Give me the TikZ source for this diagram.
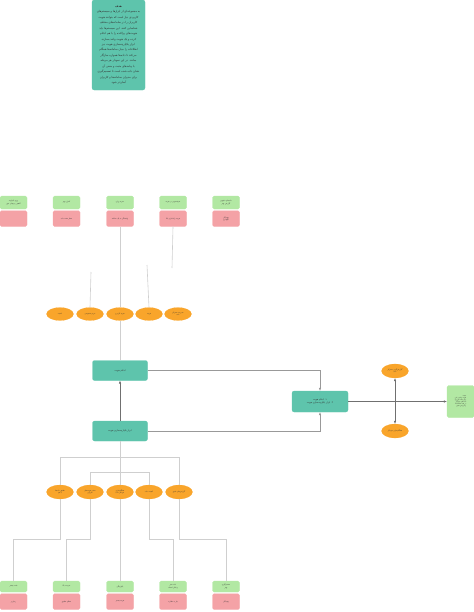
\documentclass[tikz,border=0pt]{standalone}
\usepackage{fontspec}
\newfontfamily\fa[Script=Arabic]{DejaVu Sans}
\TeXXeTstate=1
\usepackage{xcolor}
\definecolor{Teal}{HTML}{5EC4AC}
\definecolor{Pro}{HTML}{B2E8A3}
\definecolor{Con}{HTML}{F4A2A6}
\definecolor{Amber}{HTML}{F9A52B}
\definecolor{Rule}{HTML}{CFCFCF}
\definecolor{Ink}{HTML}{333333}
\usetikzlibrary{arrows.meta,positioning,shapes.geometric}
\newcommand{\fatxt}[1]{\beginR#1\endR}
\tikzset{
  note/.style={fill=Teal,draw=Teal,rounded corners=2mm,minimum width=53mm,minimum height=90mm,
    align=center,text=Ink,font=\fa\fontsize{8}{15.5}\selectfont,inner sep=1pt},
  core/.style={fill=Teal,draw=Teal,rounded corners=2mm,minimum width=55mm,minimum height=20mm,
    align=center,text=Ink,font=\fa\fontsize{6.5}{10}\selectfont,inner sep=1pt},
  pro/.style={fill=Pro,draw=Pro,rounded corners=1.5mm,minimum width=27mm,minimum height=13mm,
    align=center,text=Ink,font=\fa\fontsize{5}{6.5}\selectfont,inner sep=1pt},
  con/.style={pro,fill=Con,draw=Con,minimum height=16mm},
  topic/.style={ellipse,fill=Amber,draw=Amber,minimum width=27mm,minimum height=13mm,
    align=center,text=Ink,font=\fa\fontsize{5}{6.5}\selectfont,inner sep=0pt},
  link/.style={draw=Rule,line width=0.6mm},
  arrow/.style={-{Latex[length=3mm,width=2.4mm]},line width=0.5mm,draw=Ink!70}
}
\begin{document}
\begin{tikzpicture}[x=1mm,y=-1mm]
\useasboundingbox (0,0) rectangle (474,612);
% note on top
\node[note] (goal) at (118.5,45) {\textbf{\fatxt{هدف}}\\
\fatxt{به مجموعه‌ای از ابزارها و سیستم‌های}\\
\fatxt{کاربردی نیاز است که بتوانند هویت}\\
\fatxt{کاربران را در سامانه‌های مختلف}\\
\fatxt{شناسایی کنند. این سیستم‌ها باید}\\
\fatxt{هویت‌های پراکنده را با هم ادغام}\\
\fatxt{کرده و یک هویت واحد بسازند.}\\
\fatxt{ابزار یکپارچه‌سازی هویت نیز}\\
\fatxt{اطلاعات را میان سامانه‌ها همگام}\\
\fatxt{می‌کند تا داده‌ها همواره سازگار}\\
\fatxt{بمانند. در این نمودار هر مرحله}\\
\fatxt{با پیامدهای مثبت و منفی آن}\\
\fatxt{نشان داده شده است تا تصمیم‌گیری}\\
\fatxt{برای مدیران سامانه‌ها و کاربران}\\
\fatxt{آسان‌تر شود.}};

% upper pros and cons
\node[pro] (p1) at (13.5,202.5) {\fatxt{ورود یکپارچه}\\\fatxt{کاهش رمزهای عبور}};
\node[con,below=1.5mm of p1] (c1) {};
\node[pro] (p2) at (66.5,202.5) {\fatxt{کنترل بهتر}};
\node[con,below=1.5mm of p2] (c2) {\fatxt{خطر نشت داده}};
\node[pro] (p3) at (120,202.5) {\fatxt{تجربه روان}};
\node[con,below=1.5mm of p3] (c3) {\fatxt{وابستگی به یک سامانه}};
\node[pro] (p4) at (173,202.5) {\fatxt{صرفه‌جویی در هزینه}};
\node[con,below=1.5mm of p4] (c4) {\fatxt{هزینه راه‌اندازی بالا}};
\node[pro] (p5) at (226,202.5) {\fatxt{داده‌های دقیق‌تر}\\\fatxt{گزارش بهتر}};
\node[con,below=1.5mm of p5] (c5) {\fatxt{پیچیدگی}\\\fatxt{نگهداری}};

% upper topics
\node[topic] (t1) at (60,314) {\fatxt{امنیت}};
\node[topic] (t2) at (90,314) {\fatxt{حریم خصوصی}};
\node[topic] (t3) at (120,314) {\fatxt{تجربه کاربری}};
\node[topic] (t4) at (149,314) {\fatxt{هزینه}};
\node[topic] (t5) at (178,314) {\fatxt{مدیریت متمرکز}\\\fatxt{داده}};

% core boxes
\node[core] (merge) at (120,370.5) {\fatxt{ادغام هویت}};
\node[core] (tool) at (120,431) {\fatxt{ابزار یکپارچه‌سازی هویت}};
\node[core,minimum width=56mm,minimum height=21mm] (both) at (320,401.5)
  {\fatxt{۱. ادغام هویت}\\\fatxt{۲. ابزار یکپارچه‌سازی هویت}};
\node[pro,minimum height=32mm,align=right,font=\fa\fontsize{4.5}{6}\selectfont] (result) at (460.5,401.5)
  {\fatxt{نتیجه:}\\\fatxt{هویت واحد و امن}\\\fatxt{برای همه کاربران}\\\fatxt{داده‌های سازگار}\\\fatxt{در همه سامانه‌ها}\\\fatxt{و گزارش دقیق}};

% right topics
\node[topic,minimum height=14mm] (report) at (395,371) {\fatxt{گزارش‌گیری متمرکز}\\\fatxt{داده}};
\node[topic,minimum height=14mm] (sync) at (395,431) {\fatxt{همگام‌سازی خودکار}};

% lower topics
\node[topic,minimum height=14mm] (b1) at (60,492) {\fatxt{تطبیق داده‌ها}\\\fatxt{با هم}};
\node[topic,minimum height=14mm] (b2) at (90,492) {\fatxt{حذف هویت‌های}\\\fatxt{تکراری}};
\node[topic,minimum height=14mm] (b3) at (120,492) {\fatxt{همگام‌سازی}\\\fatxt{خودکار داده}};
\node[topic,minimum height=14mm] (b4) at (149,492) {\fatxt{کیفیت داده}};
\node[topic,minimum height=14mm] (b5) at (179,492) {\fatxt{گزارش‌های دقیق}};

% lower pros and cons
\node[pro,minimum height=11mm] (q1) at (13.5,586.5) {\fatxt{دقت بیشتر}};
\node[con,below=1.5mm of q1] (d1) {\fatxt{زمان‌بر}};
\node[pro,minimum height=11mm] (q2) at (66.5,586.5) {\fatxt{سرعت بالا}};
\node[con,below=1.5mm of q2] (d2) {\fatxt{خطای تطبیق}};
\node[pro,minimum height=11mm] (q3) at (120,586.5) {\fatxt{یکپارچگی}};
\node[con,below=1.5mm of q3] (d3) {\fatxt{هزینه بیشتر}};
\node[pro,minimum height=11mm] (q4) at (173,586.5) {\fatxt{داده تمیز}\\\fatxt{و قابل اعتماد}};
\node[con,below=1.5mm of q4] (d4) {\fatxt{نیاز به نظارت}};
\node[pro,minimum height=11mm] (q5) at (226,586.5) {\fatxt{تصمیم‌گیری}\\\fatxt{بهتر}};
\node[con,below=1.5mm of q5] (d5) {\fatxt{پیچیدگی}};

% loose ends
\coordinate (s2) at (91,272);
\coordinate (s4) at (147,265);
\coordinate (e4) at (172,268);
\coordinate (hub) at (395,401.5);
\coordinate (splitA) at (120,457);
\coordinate (splitB) at (120,472);

% upper links
\draw[link] (c3.south) -- (t3.north);
\draw[link] (t3.south) -- (merge.north);
\draw[link] (s2) -- (t2.north);
\draw[link] (s4) -- (t4.north);
\draw[link] (c4.south) -- (e4);

% core links
\draw[arrow] (tool.north) -- (merge.south);
\draw[arrow,draw=Ink!50] (merge.east) -| (both.north);
\draw[arrow,draw=Ink!50] (tool.east) -| (both.south);
\draw[arrow] (both.east) -- (result.west);
\draw[arrow] (hub) -- (report.south);
\draw[arrow] (hub) -- (sync.north);

% lower tree
\draw[link] (tool.south) -- (b3.north);
\draw[link] (splitA) -| (b1.north);
\draw[link] (splitA) -| (b5.north);
\draw[link] (splitB) -| (b2.north);
\draw[link] (splitB) -| (b4.north);
\draw[link] (b1.south) |- ([yshift=42mm]q1.north) -- (q1.north);
\draw[link] (b2.south) |- ([yshift=42mm]q2.north) -- (q2.north);
\draw[link] (b3.south) -- (q3.north);
\draw[link] (b4.south) |- ([yshift=42mm]q4.north) -- (q4.north);
\draw[link] (b5.south) |- ([yshift=42mm]q5.north) -- (q5.north);
\end{tikzpicture}
\end{document}
